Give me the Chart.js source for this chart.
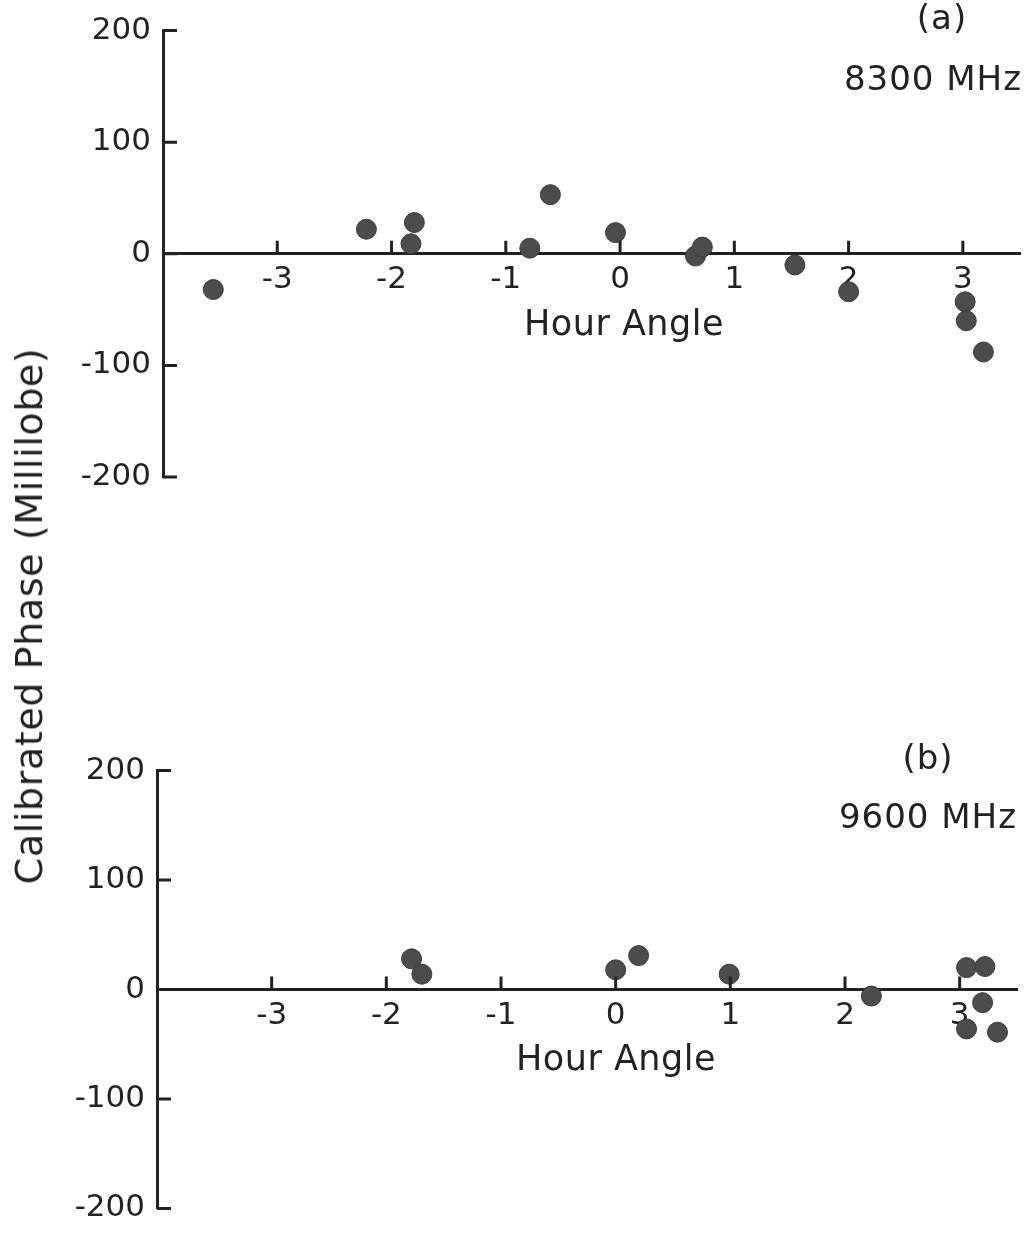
<!DOCTYPE html>
<html>
<head>
<meta charset="utf-8">
<script src="https://cdn.jsdelivr.net/npm/chart.js@4.4.0/dist/chart.umd.min.js"></script>
<style>
  body { margin: 0; background: #fff; width: 1031px; height: 1239px; position: relative; overflow: hidden; font-family: "DejaVu Sans", sans-serif; color: #222; }
  canvas { position: absolute; left: 0; }
  #chartA { top: 0; }
  #chartB { top: 740px; }
  .lbl { position: absolute; font-size: 34px; letter-spacing: 1px; white-space: nowrap; transform: translate(-50%, -50%); }
  .ytitle { position: absolute; left: 29px; top: 616px; font-size: 38px; letter-spacing: 0.6px; white-space: nowrap; transform: translate(-50%, -50%) rotate(-90deg); }
</style>
</head>
<body>
<canvas id="chartA" width="1031" height="520"></canvas>
<canvas id="chartB" width="1031" height="499"></canvas>
<div class="ytitle">Calibrated Phase (Millilobe)</div>
<div class="lbl" style="left:942px; top:17px;">(a)</div>
<div class="lbl" style="left:933px; top:78px;">8300 MHz</div>
<div class="lbl" style="left:624px; top:323px; font-size:35px; letter-spacing:0.5px;">Hour Angle</div>
<div class="lbl" style="left:928px; top:757px;">(b)</div>
<div class="lbl" style="left:928px; top:816px;">9600 MHz</div>
<div class="lbl" style="left:616px; top:1058px; font-size:35px; letter-spacing:0.5px;">Hour Angle</div>
<script>
// panel (a) 8300 MHz
const hourA = [-3.56, -2.22, -1.80, -1.83, -0.79, -0.61, -0.04, 0.66, 0.72, 1.53, 2.00, 3.02, 3.03, 3.18];
const phaseA = [-32, 22, 28, 9, 5, 53, 19, -2, 6, -10, -34, -43, -60, -88];
// panel (b) 9600 MHz
const hourB = [-1.78, -1.69, 0.00, 0.20, 0.99, 2.23, 3.06, 3.22, 3.20, 3.06, 3.33];
const phaseB = [28, 14, 18, 31, 14, -6, 20, 21, -12, -36, -39];

const hourTicks = [-3, -2, -1, 0, 1, 2, 3];
const phaseTicks = [-200, -100, 0, 100, 200];

const ink = '#222';

// inward tick marks (y ticks point right, x ticks point up)
const inwardTicks = {
    id: 'inwardTicks',
    afterDraw(chart) {
        const ctx = chart.ctx;
        const xs = chart.scales.x, ys = chart.scales.y;
        const y0 = ys.getPixelForValue(0);
        const left = chart.chartArea.left;
        ctx.save();
        ctx.strokeStyle = ink;
        ctx.lineWidth = 3;
        ctx.beginPath();
        phaseTicks.forEach(v => {
            const py = ys.getPixelForValue(v);
            ctx.moveTo(left, py);
            ctx.lineTo(left + 14, py);
        });
        hourTicks.forEach(v => {
            const px = xs.getPixelForValue(v);
            ctx.moveTo(px, y0);
            ctx.lineTo(px, y0 - 13);
        });
        ctx.stroke();
        ctx.restore();
    }
};

function makeChart(id, hours, phases, yWidth, pad) {
    const pts = hours.map((h, i) => ({ x: h, y: phases[i] }));
    return new Chart(document.getElementById(id), {
        type: 'scatter',
        data: { datasets: [{ data: pts, backgroundColor: '#4c4c4c', borderColor: '#3a3a3a', borderWidth: 1, pointRadius: 10, pointHoverRadius: 10 }] },
        options: {
            responsive: false,
            animation: false,
            events: [],
            layout: { padding: pad },
            plugins: { legend: { display: false }, tooltip: { enabled: false } },
            scales: {
                x: {
                    type: 'linear', min: -4, max: 3.5,
                    position: { y: 0 },
                    afterBuildTicks: s => { s.ticks = hourTicks.map(v => ({ value: v })); },
                    grid: { display: true, drawOnChartArea: false, drawTicks: false },
                    border: { display: true, color: ink, width: 3 },
                    ticks: {
                        padding: 8, color: ink, autoSkip: false, maxRotation: 0,
                        font: { family: 'DejaVu Sans', size: 31 }
                    }
                },
                y: {
                    type: 'linear', min: -200, max: 200,
                    position: 'left',
                    afterFit: s => { s.width = yWidth; },
                    afterBuildTicks: s => { s.ticks = phaseTicks.map(v => ({ value: v })); },
                    grid: { display: true, drawOnChartArea: false, drawTicks: false },
                    border: { display: true, color: ink, width: 3 },
                    ticks: {
                        padding: 12, color: ink,
                        font: { family: 'DejaVu Sans', size: 31 }
                    }
                }
            }
        },
        plugins: [inwardTicks]
    });
}

makeChart('chartA', hourA, phaseA, 163, { top: 25, bottom: 43, right: 11, left: 0 });
makeChart('chartB', hourB, phaseB, 157, { top: 25, bottom: 22, right: 14, left: 0 });
</script>
</body>
</html>
